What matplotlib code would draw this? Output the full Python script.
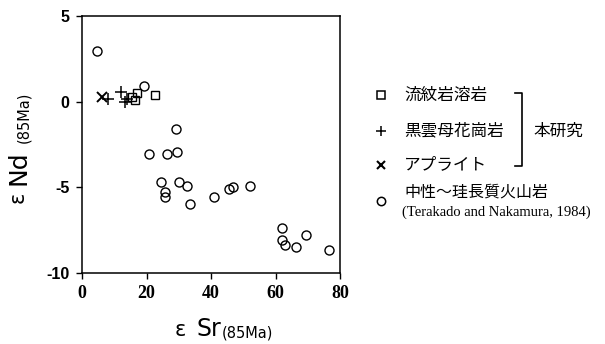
import matplotlib
matplotlib.use('Agg')
import matplotlib.pyplot as plt
from matplotlib.lines import Line2D

plt.rcParams['font.family'] = ['Noto Sans CJK JP', 'DejaVu Sans']
plt.rcParams['axes.unicode_minus'] = False

# 流紋岩溶岩 (this study)
rhy_sr = [15.6, 16.4, 16.9, 22.6]
rhy_nd = [0.28, 0.08, 0.53, 0.41]
# 黒雲母花崗岩 (this study)
gra_sr = [8.2, 12.1, 13.3, 13.9]
gra_nd = [0.14, 0.57, -0.02, 0.14]
# アプライト (this study)
apl_sr = [6.3]
apl_nd = [0.27]
# 中性〜珪長質火山岩 (Terakado and Nakamura, 1984)
vol_sr = [4.5, 19.2, 29.0, 20.9, 26.5, 29.4, 24.4, 25.7, 25.7, 30.2, 32.6,
          33.5, 40.9, 45.7, 46.7, 52.1, 62.0, 61.9, 62.8, 66.3, 69.6, 76.7]
vol_nd = [2.94, 0.92, -1.6, -3.04, -3.08, -2.94, -4.67, -5.27, -5.59, -4.69, -4.9,
          -5.96, -5.59, -5.08, -5.0, -4.92, -7.39, -8.08, -8.39, -8.49, -7.78, -8.63]

legend_labels = ['流紋岩溶岩', '黒雲母花崗岩', 'アプライト', '中性〜珪長質火山岩']
ref_label = '(Terakado and Nakamura, 1984)'
group_label = '本研究'

fig = plt.figure(figsize=(6.05, 3.44), dpi=100)
ax = fig.add_axes([82 / 605, 1 - 273 / 344, 258 / 605, 257 / 344])

mk = dict(linestyle='none', color='black', mfc='none')
ax.plot(vol_sr, vol_nd, marker='o', ms=6.5, mew=1.0, **mk)
ax.plot(rhy_sr, rhy_nd, marker='s', ms=6, mew=1.0, **mk)
ax.plot(gra_sr, gra_nd, marker='+', ms=8, mew=1.1, **mk)
ax.plot(apl_sr, apl_nd, marker='x', ms=6.5, mew=1.4, **mk)

ax.set_xlim(0, 80)
ax.set_ylim(-10, 5)
ax.set_xticks([0, 20, 40, 60, 80])
ax.set_yticks([-10, -5, 0, 5])
ax.tick_params(direction='out', length=4, width=1, pad=5)
for lab in ax.get_xticklabels():
    lab.set_family('Liberation Serif')
    lab.set_fontweight('bold')
    lab.set_fontsize(13)
for lab in ax.get_yticklabels():
    lab.set_family('Liberation Sans')
    lab.set_fontweight('bold')
    lab.set_fontsize(11.5)
for s in ax.spines.values():
    s.set_linewidth(1.1)

# axis labels
fig.text(180 / 605, 1 - 336 / 344, 'ε', fontsize=15, family='DejaVu Sans', ha='center', va='baseline')
fig.text(196 / 605, 1 - 336 / 344, 'Sr', fontsize=17, family='DejaVu Sans', ha='left', va='baseline')
fig.text(222 / 605, 1 - 337 / 344, '(85Ma)', fontsize=10.5, family='DejaVu Sans',
         ha='left', va='baseline')
fig.text(18 / 605, 1 - 197 / 344, 'ε', fontsize=15, family='DejaVu Sans', rotation=90,
         ha='center', va='center')
fig.text(18 / 605, 1 - 168 / 344, 'Nd', fontsize=18, family='DejaVu Sans', rotation=90,
         ha='center', va='center')
fig.text(24 / 605, 1 - 117 / 344, '(85Ma)', fontsize=10.5, family='DejaVu Sans',
         rotation=90, ha='center', va='center')

# legend drawn in pixel coordinates
lg = fig.add_axes([0, 0, 1, 1])
lg.set_xlim(0, 605)
lg.set_ylim(344, 0)
lg.axis('off')
rows = [95, 131, 165, 201]
markers = [('s', 5.5, 1.1), ('+', 7, 1.1), ('x', 5.5, 1.5), ('o', 6, 1.1)]
for (m, size, ew), yy in zip(markers, rows):
    lg.plot([381], [yy], marker=m, ms=size, mew=ew, **mk)
for lab, yy in zip(legend_labels[:3], rows[:3]):
    lg.text(404, yy, lab, fontsize=12, ha='left', va='center')
lg.text(404, 192, legend_labels[3], fontsize=11.5, ha='left', va='center')
lg.text(402, 212, ref_label, fontsize=10.5, family='Liberation Serif', ha='left', va='center')

lg.add_line(Line2D([515, 522, 522, 515], [93, 93, 166, 166], color='black', lw=1.2))
lg.text(533, 131, group_label, fontsize=12, ha='left', va='center')

fig.savefig('out.png', dpi=100)
